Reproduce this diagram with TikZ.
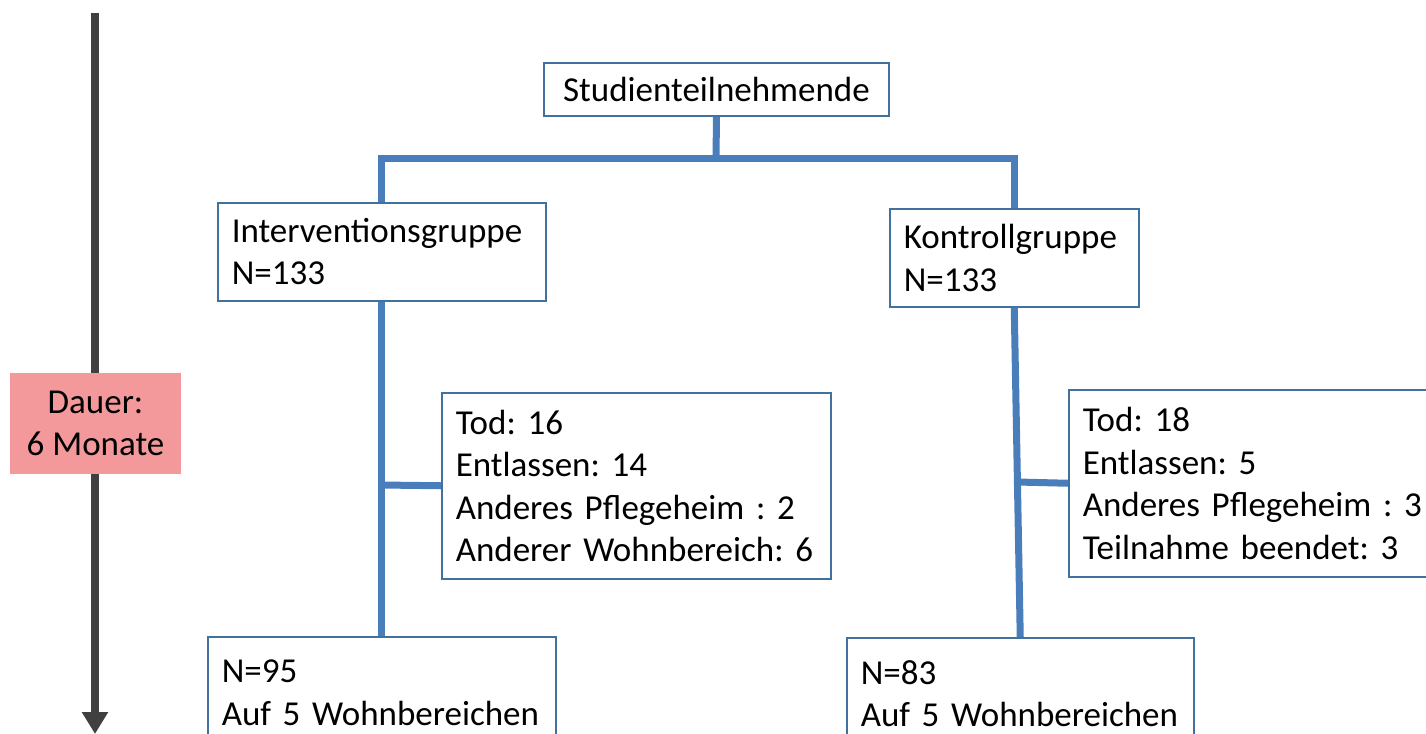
\documentclass[tikz,border=0pt]{standalone}
\usepackage{fontspec}
\setmainfont{Carlito}
\usetikzlibrary{arrows.meta,calc}
\definecolor{lineblue}{HTML}{4A7EBB}
\definecolor{boxedge}{HTML}{41719C}
\definecolor{pinkfill}{HTML}{F4999B}
\definecolor{arrowgray}{HTML}{404040}
\newcommand\dfont{\fontsize{17.5pt}{21.25pt}\selectfont\frenchspacing\hyphenpenalty=10000\exhyphenpenalty=10000 }
\begin{document}
\begin{tikzpicture}[x=0.5pt,y=-0.5pt,
  flowbox/.style={draw=boxedge,line width=0.75pt,fill=white,anchor=north west,align=left,inner xsep=7pt,inner ysep=0pt,font=\dfont},
  conn/.style={draw=lineblue,line width=3.5pt}]
\useasboundingbox (0,0) rectangle (1426,734);
\clip (0,0) rectangle (1426,734);
% timeline arrow
\coordinate (atop) at (95,13);
\coordinate (abot) at (95,734);
\draw[arrowgray,line width=4pt,-{Triangle[width=12.5pt,length=11pt]}] (atop) -- (abot);
\node[fill=pinkfill,minimum width=85.5pt,minimum height=50.5pt,align=center,font=\dfont,inner sep=0pt] (dauer) at (95.5,423.5) {Dauer:\\6 Monate};
% boxes
\node[draw=boxedge,line width=0.75pt,fill=white,minimum width=172.5pt,minimum height=26.5pt,inner sep=0pt,font=\dfont] (S) at (716.5,89.5) {Studienteilnehmende};
\node[flowbox,text width=150pt,minimum height=49pt] (I) at (217,202) {Interventionsgruppe\\N=133};
\node[flowbox,text width=110.5pt,minimum height=49pt] (K) at (889,208) {Kontrollgruppe\\N=133};
\node[flowbox,text width=180.5pt,minimum height=93pt] (TL) at (441,392) {Tod: 16\\Entlassen: 14\\Anderes Pflegeheim : 2\\Anderer Wohnbereich: 6};
\node[flowbox,text width=190pt,minimum height=93.5pt] (TR) at (1068,389) {Tod: 18\\Entlassen: 5\\Anderes Pflegeheim : 3\\Teilnahme beendet: 3};
\node[flowbox,text width=160pt,minimum height=56pt] (NL) at (207,636) {N=95\\Auf 5 Wohnbereichen};
\node[flowbox,text width=159.5pt,minimum height=56pt] (NR) at (846,637) {N=83\\Auf 5 Wohnbereichen};
% connectors
\coordinate (j) at (716,158);
\draw[conn] (S.south) -- (j);
\draw[conn] (j) -| (I.north);
\draw[conn] (j) -| (K.north);
\draw[conn] (I.south) -- (NL.north);
\draw[conn] (K.south) -- (NR.north);
\coordinate (bL) at (381,485);
\draw[conn] (bL) -- (TL.west);
\coordinate (bR) at (1017,482);
\draw[conn] (bR) -- (TR.west);
\end{tikzpicture}
\end{document}
